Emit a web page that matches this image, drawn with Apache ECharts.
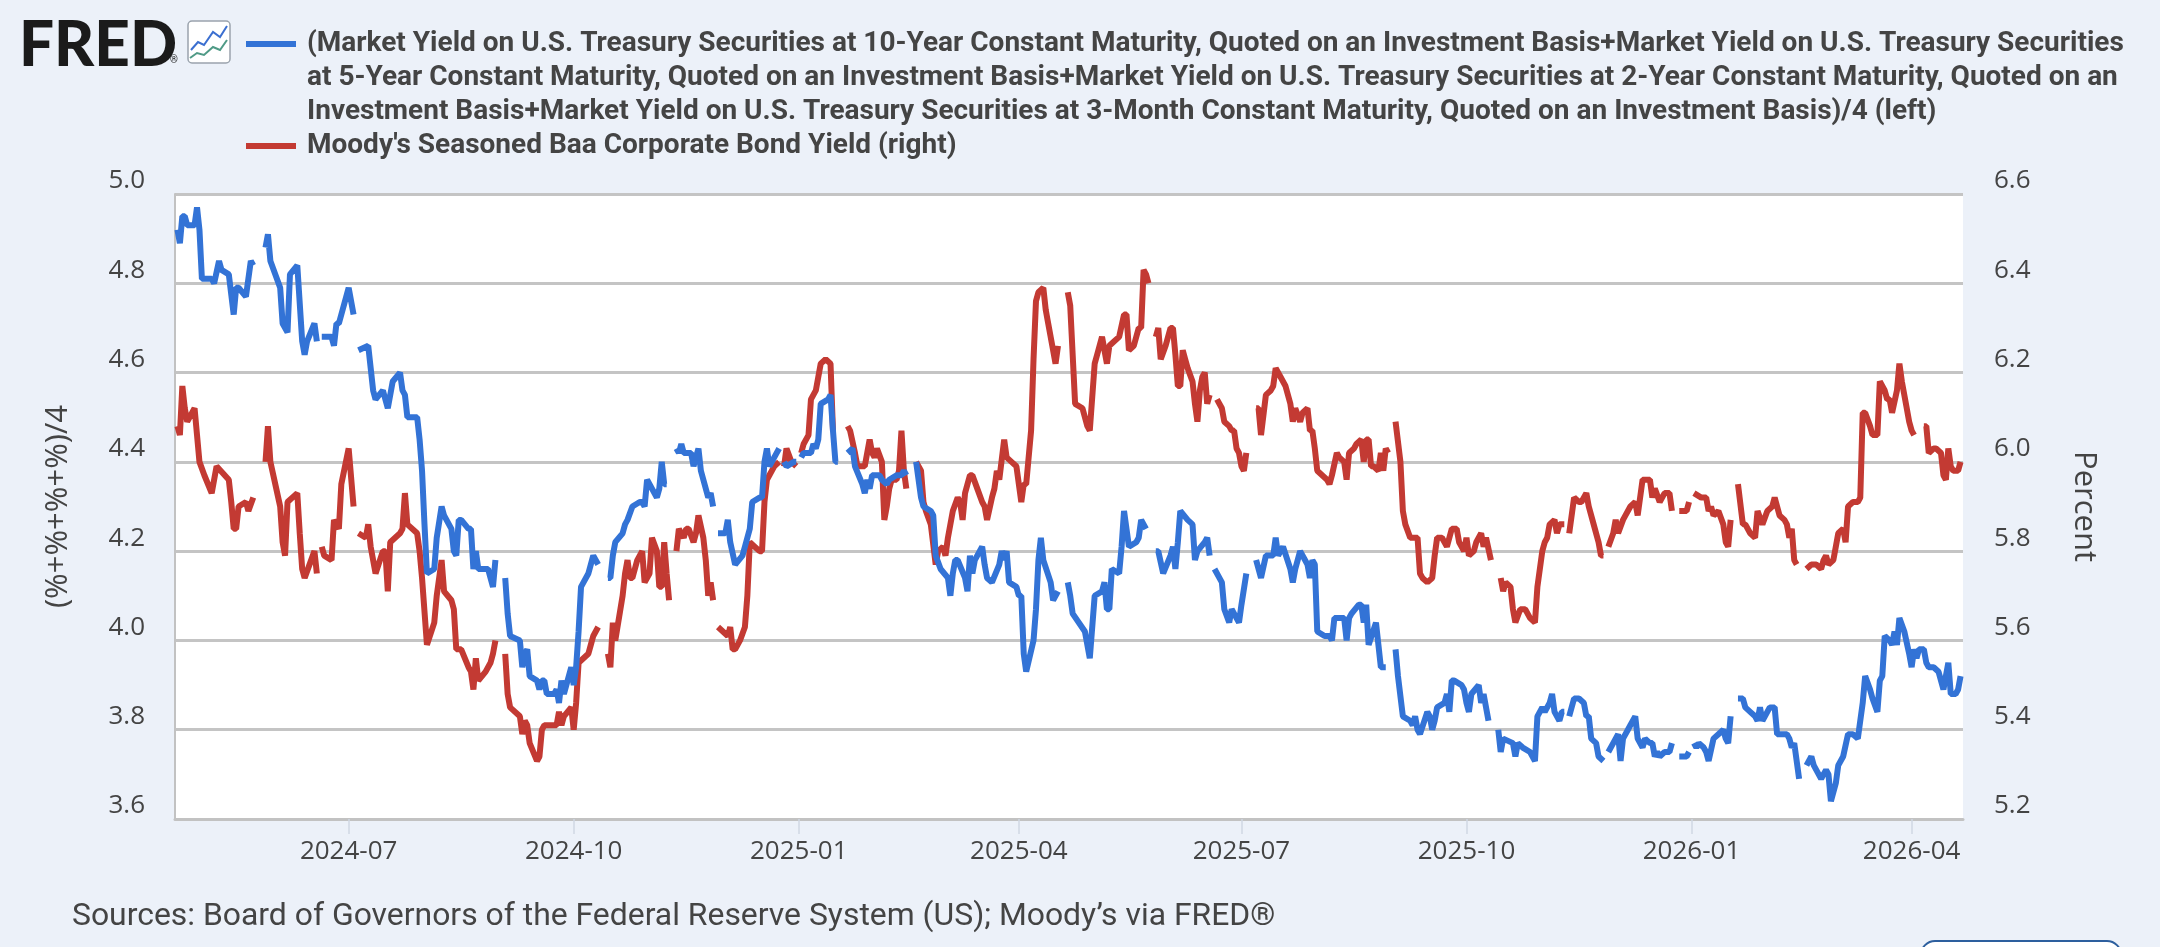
<!DOCTYPE html>
<html>
<head>
<meta charset="utf-8">
<script src="https://cdn.jsdelivr.net/npm/echarts@6/dist/echarts.min.js"></script>
<style>
html,body{margin:0;padding:0;background:#ecf1f9;}
#chart{width:2160px;height:947px;}
</style>
</head>
<body>
<div id="chart"></div>
<script>
// ---- Data ----
const leftTicks = [3.6, 3.8, 4.0, 4.2, 4.4, 4.6, 4.8, 5.0];
const rightTicks = [5.2, 5.4, 5.6, 5.8, 6.0, 6.2, 6.4, 6.6];

const treasuryName = '(Market Yield on U.S. Treasury Securities at 10-Year Constant Maturity, Quoted on an Investment Basis+Market Yield on U.S. Treasury Securities at 5-Year Constant Maturity, Quoted on an Investment Basis+Market Yield on U.S. Treasury Securities at 2-Year Constant Maturity, Quoted on an Investment Basis+Market Yield on U.S. Treasury Securities at 3-Month Constant Maturity, Quoted on an Investment Basis)/4 (left)';
const treasuryLegendLines = [
  '(Market Yield on U.S. Treasury Securities at 10-Year Constant Maturity, Quoted on an Investment Basis+Market Yield on U.S. Treasury Securities',
  'at 5-Year Constant Maturity, Quoted on an Investment Basis+Market Yield on U.S. Treasury Securities at 2-Year Constant Maturity, Quoted on an',
  'Investment Basis+Market Yield on U.S. Treasury Securities at 3-Month Constant Maturity, Quoted on an Investment Basis)/4 (left)'
];
const baaName = "Moody's Seasoned Baa Corporate Bond Yield (right)";

const treasuryAvg = [
['2024-04-22',4.92],['2024-04-23',4.89],['2024-04-24',4.95],['2024-04-25',4.95],['2024-04-26',4.93],['2024-04-29',4.93],['2024-04-30',4.97],
['2024-05-01',4.92],['2024-05-02',4.81],['2024-05-06',4.81],['2024-05-07',4.80],['2024-05-09',4.85],['2024-05-10',4.83],['2024-05-13',4.82],['2024-05-15',4.73],['2024-05-16',4.79],['2024-05-17',4.79],['2024-05-20',4.77],['2024-05-22',4.85],['2024-05-23',4.84],['2024-05-27',null],['2024-05-28',4.88],['2024-05-29',4.91],['2024-05-30',4.85],
['2024-06-03',4.79],['2024-06-04',4.71],['2024-06-06',4.69],['2024-06-07',4.82],['2024-06-10',4.84],['2024-06-12',4.67],['2024-06-13',4.64],['2024-06-14',4.67],['2024-06-17',4.71],['2024-06-18',4.67],['2024-06-19',null],['2024-06-20',4.68],['2024-06-24',4.68],['2024-06-25',4.66],['2024-06-26',4.71],['2024-06-27',4.71],
['2024-07-01',4.79],['2024-07-03',4.73],['2024-07-04',null],['2024-07-05',4.65],['2024-07-09',4.66],['2024-07-11',4.56],['2024-07-12',4.54],['2024-07-15',4.56],['2024-07-17',4.52],['2024-07-19',4.58],['2024-07-22',4.60],['2024-07-23',4.56],['2024-07-24',4.55],['2024-07-25',4.50],['2024-07-29',4.50],['2024-07-30',4.45],['2024-07-31',4.38],
['2024-08-01',4.26],['2024-08-02',4.15],['2024-08-05',4.16],['2024-08-06',4.23],['2024-08-08',4.30],['2024-08-09',4.28],['2024-08-12',4.25],['2024-08-13',4.20],['2024-08-14',4.19],['2024-08-15',4.27],['2024-08-16',4.27],['2024-08-19',4.25],['2024-08-20',4.25],['2024-08-21',4.16],['2024-08-22',4.20],['2024-08-23',4.16],['2024-08-26',4.16],['2024-08-27',4.16],['2024-08-29',4.12],['2024-08-30',4.18],
['2024-09-02',null],['2024-09-03',4.14],['2024-09-04',4.06],['2024-09-05',4.01],['2024-09-09',4.00],['2024-09-10',3.94],['2024-09-11',3.97],['2024-09-12',3.98],['2024-09-13',3.92],['2024-09-16',3.91],['2024-09-17',3.89],['2024-09-18',3.91],['2024-09-19',3.91],['2024-09-20',3.88],['2024-09-23',3.88],['2024-09-24',3.89],['2024-09-25',3.86],['2024-09-26',3.91],['2024-09-27',3.88],['2024-09-30',3.94],
['2024-10-01',3.90],['2024-10-02',3.94],['2024-10-03',4.02],['2024-10-04',4.12],['2024-10-07',4.15],['2024-10-08',4.17],['2024-10-09',4.19],['2024-10-11',4.17],['2024-10-14',null],['2024-10-15',4.14],['2024-10-16',4.14],['2024-10-17',4.19],['2024-10-18',4.22],['2024-10-21',4.24],['2024-10-22',4.26],['2024-10-23',4.27],['2024-10-25',4.30],['2024-10-28',4.31],['2024-10-29',4.31],['2024-10-30',4.30],['2024-10-31',4.36],
['2024-11-01',4.35],['2024-11-04',4.32],['2024-11-05',4.34],['2024-11-06',4.40],['2024-11-07',4.35],['2024-11-08',4.35],['2024-11-11',null],['2024-11-12',4.43],['2024-11-13',4.42],['2024-11-14',4.44],['2024-11-15',4.42],['2024-11-18',4.42],['2024-11-19',4.39],['2024-11-20',4.41],['2024-11-21',4.43],['2024-11-22',4.38],['2024-11-25',4.32],['2024-11-26',4.33],['2024-11-27',4.30],['2024-11-28',null],['2024-11-29',4.24],
['2024-12-02',4.24],['2024-12-03',4.27],['2024-12-04',4.22],['2024-12-06',4.17],['2024-12-09',4.19],['2024-12-10',4.21],['2024-12-12',4.25],['2024-12-13',4.31],['2024-12-16',4.32],['2024-12-17',4.32],['2024-12-18',4.40],['2024-12-19',4.43],['2024-12-20',4.39],['2024-12-23',4.42],['2024-12-24',4.43],['2024-12-25',null],['2024-12-26',4.40],['2024-12-27',4.39],['2024-12-30',4.40],['2024-12-31',4.40],
['2025-01-01',null],['2025-01-02',4.41],['2025-01-03',4.42],['2025-01-06',4.42],['2025-01-07',4.44],['2025-01-08',4.43],['2025-01-09',4.45],['2025-01-10',4.53],['2025-01-13',4.54],['2025-01-14',4.55],['2025-01-15',4.47],['2025-01-16',4.40],['2025-01-17',4.40],['2025-01-20',null],['2025-01-21',4.42],['2025-01-23',4.43],['2025-01-24',4.39],['2025-01-27',4.35],['2025-01-28',4.33],['2025-01-29',4.36],['2025-01-30',4.34],['2025-01-31',4.37],
['2025-02-03',4.37],['2025-02-04',4.36],['2025-02-06',4.35],['2025-02-07',4.36],['2025-02-10',4.37],['2025-02-12',4.37],['2025-02-13',4.38],['2025-02-14',4.37],['2025-02-17',null],['2025-02-18',4.40],['2025-02-20',4.32],['2025-02-21',4.30],['2025-02-24',4.29],['2025-02-25',4.28],['2025-02-26',4.19],['2025-02-28',4.16],
['2025-03-03',4.14],['2025-03-04',4.10],['2025-03-05',4.15],['2025-03-06',4.18],['2025-03-07',4.18],['2025-03-10',4.14],['2025-03-11',4.11],['2025-03-12',4.19],['2025-03-13',4.15],['2025-03-14',4.18],['2025-03-17',4.21],['2025-03-18',4.17],['2025-03-19',4.14],['2025-03-21',4.13],['2025-03-24',4.17],['2025-03-25',4.20],['2025-03-26',4.18],['2025-03-27',4.20],['2025-03-28',4.13],['2025-03-31',4.12],
['2025-04-01',4.10],['2025-04-02',4.10],['2025-04-03',3.97],['2025-04-04',3.93],['2025-04-07',4.00],['2025-04-08',4.07],['2025-04-09',4.18],['2025-04-10',4.23],['2025-04-11',4.18],['2025-04-14',4.13],['2025-04-15',4.09],['2025-04-17',4.11],['2025-04-18',null],['2025-04-21',4.13],['2025-04-22',4.10],['2025-04-23',4.06],['2025-04-28',4.02],['2025-04-30',3.96],
['2025-05-02',4.10],['2025-05-05',4.11],['2025-05-06',4.13],['2025-05-07',4.07],['2025-05-08',4.07],['2025-05-09',4.16],['2025-05-12',4.15],['2025-05-13',4.21],['2025-05-14',4.29],['2025-05-16',4.21],['2025-05-19',4.22],['2025-05-20',4.23],['2025-05-21',4.27],['2025-05-22',4.26],['2025-05-23',4.25],['2025-05-26',null],['2025-05-27',4.20],['2025-05-28',4.20],['2025-05-30',4.15],
['2025-06-02',4.19],['2025-06-03',4.21],['2025-06-04',4.16],['2025-06-05',4.22],['2025-06-06',4.29],['2025-06-09',4.27],['2025-06-11',4.26],['2025-06-12',4.18],['2025-06-13',4.20],['2025-06-16',4.22],['2025-06-17',4.23],['2025-06-18',4.19],['2025-06-19',null],['2025-06-20',4.16],['2025-06-23',4.13],['2025-06-24',4.07],['2025-06-26',4.04],['2025-06-27',4.07],['2025-06-30',4.04],
['2025-07-01',4.08],['2025-07-03',4.15],['2025-07-04',null],['2025-07-07',4.18],['2025-07-09',4.14],['2025-07-11',4.19],['2025-07-14',4.19],['2025-07-15',4.23],['2025-07-16',4.19],['2025-07-18',4.21],['2025-07-21',4.16],['2025-07-22',4.13],['2025-07-23',4.16],['2025-07-25',4.20],['2025-07-28',4.17],['2025-07-29',4.14],['2025-07-30',4.18],['2025-07-31',4.17],
['2025-08-01',4.02],['2025-08-04',4.01],['2025-08-06',4.01],['2025-08-07',4.00],['2025-08-08',4.05],['2025-08-11',4.05],['2025-08-12',4.05],['2025-08-13',4.00],['2025-08-14',4.05],['2025-08-15',4.06],['2025-08-18',4.08],['2025-08-19',4.08],['2025-08-20',4.04],['2025-08-21',4.08],['2025-08-22',3.99],['2025-08-25',4.04],['2025-08-26',3.99],['2025-08-27',3.94],['2025-08-28',3.94],['2025-08-29',3.94],
['2025-09-01',null],['2025-09-02',3.98],['2025-09-03',3.92],['2025-09-05',3.83],['2025-09-08',3.82],['2025-09-09',3.81],['2025-09-10',3.83],['2025-09-11',3.80],['2025-09-12',3.79],['2025-09-15',3.84],['2025-09-16',3.83],['2025-09-17',3.80],['2025-09-18',3.82],['2025-09-19',3.85],['2025-09-22',3.86],['2025-09-23',3.88],['2025-09-24',3.84],['2025-09-25',3.91],['2025-09-26',3.91],['2025-09-29',3.90],['2025-09-30',3.89],
['2025-10-01',3.86],['2025-10-02',3.84],['2025-10-03',3.88],['2025-10-06',3.90],['2025-10-07',3.86],['2025-10-08',3.88],['2025-10-10',3.82],['2025-10-13',null],['2025-10-14',3.80],['2025-10-15',3.75],['2025-10-16',3.78],['2025-10-20',3.77],['2025-10-21',3.74],['2025-10-22',3.77],['2025-10-24',3.76],['2025-10-27',3.75],['2025-10-29',3.73],['2025-10-30',3.83],
['2025-11-01',3.85],['2025-11-02',3.84],['2025-11-04',3.86],['2025-11-05',3.88],['2025-11-06',3.84],['2025-11-08',3.82],['2025-11-09',3.84],['2025-11-10',3.84],['2025-11-11',null],['2025-11-12',3.83],['2025-11-14',3.87],['2025-11-16',3.87],['2025-11-18',3.86],['2025-11-19',3.83],['2025-11-20',3.83],['2025-11-21',3.78],['2025-11-23',3.77],['2025-11-24',3.74],['2025-11-26',3.73],['2025-11-27',null],['2025-11-28',3.75],['2025-11-30',3.77],
['2025-12-02',3.79],['2025-12-03',3.73],['2025-12-04',3.78],['2025-12-06',3.80],['2025-12-07',3.81],['2025-12-09',3.83],['2025-12-10',3.78],['2025-12-12',3.76],['2025-12-13',3.78],['2025-12-15',3.77],['2025-12-16',3.77],['2025-12-17',3.74],['2025-12-18',3.75],['2025-12-19',3.74],['2025-12-21',3.75],['2025-12-23',3.75],['2025-12-24',3.77],['2025-12-25',null],['2025-12-27',3.74],['2025-12-30',3.74],['2025-12-31',3.75],
['2026-01-01',null],['2026-01-02',3.77],['2026-01-03',3.76],['2026-01-04',3.77],['2026-01-06',3.76],['2026-01-07',3.75],['2026-01-08',3.73],['2026-01-10',3.78],['2026-01-12',3.79],['2026-01-14',3.80],['2026-01-15',3.78],['2026-01-16',3.77],['2026-01-17',3.83],['2026-01-19',null],['2026-01-20',3.87],['2026-01-22',3.87],['2026-01-23',3.85],['2026-01-25',3.84],['2026-01-27',3.83],['2026-01-28',3.82],['2026-01-29',3.85],['2026-01-30',3.82],['2026-01-31',3.83],
['2026-02-02',3.85],['2026-02-04',3.85],['2026-02-05',3.79],['2026-02-06',3.79],['2026-02-08',3.79],['2026-02-09',3.79],['2026-02-10',3.78],['2026-02-11',3.76],['2026-02-12',3.77],['2026-02-14',3.69],['2026-02-16',null],['2026-02-17',3.72],['2026-02-19',3.74],['2026-02-20',3.72],['2026-02-21',3.71],['2026-02-23',3.69],['2026-02-25',3.71],['2026-02-26',3.70],['2026-02-27',3.64],
['2026-03-01',3.68],['2026-03-02',3.72],['2026-03-04',3.74],['2026-03-06',3.79],['2026-03-08',3.79],['2026-03-10',3.78],['2026-03-12',3.86],['2026-03-13',3.92],['2026-03-15',3.89],['2026-03-16',3.87],['2026-03-18',3.84],['2026-03-19',3.91],['2026-03-20',3.92],['2026-03-21',4.01],['2026-03-23',4.00],['2026-03-24',3.99],['2026-03-25',4.02],['2026-03-26',3.99],['2026-03-27',4.05],['2026-03-29',4.02],['2026-03-31',3.97],
['2026-04-01',3.94],['2026-04-02',3.98],['2026-04-03',3.96],['2026-04-04',3.98],['2026-04-06',3.98],['2026-04-07',3.95],['2026-04-08',3.94],['2026-04-10',3.94],['2026-04-12',3.93],['2026-04-14',3.89],['2026-04-15',3.92],['2026-04-16',3.95],['2026-04-17',3.88],['2026-04-19',3.88],['2026-04-20',3.89],['2026-04-21',3.92]
];

const baaYield = [
['2024-04-22',6.08],['2024-04-23',6.06],['2024-04-24',6.17],['2024-04-25',6.12],['2024-04-26',6.09],['2024-04-29',6.12],['2024-04-30',6.06],
['2024-05-01',6.00],['2024-05-03',5.97],['2024-05-06',5.93],['2024-05-08',5.99],['2024-05-13',5.96],['2024-05-14',5.91],['2024-05-15',5.85],['2024-05-16',5.85],['2024-05-17',5.90],['2024-05-20',5.91],['2024-05-21',5.89],['2024-05-23',5.92],['2024-05-27',null],['2024-05-28',6.00],['2024-05-29',6.08],['2024-05-30',6.00],
['2024-06-03',5.90],['2024-06-04',5.82],['2024-06-05',5.79],['2024-06-06',5.91],['2024-06-10',5.93],['2024-06-11',5.84],['2024-06-12',5.76],['2024-06-13',5.74],['2024-06-17',5.80],['2024-06-18',5.75],['2024-06-19',null],['2024-06-20',5.81],['2024-06-21',5.79],['2024-06-24',5.78],['2024-06-25',5.87],['2024-06-27',5.85],['2024-06-28',5.95],
['2024-07-01',6.03],['2024-07-03',5.90],['2024-07-04',null],['2024-07-05',5.84],['2024-07-08',5.83],['2024-07-09',5.86],['2024-07-10',5.81],['2024-07-12',5.75],['2024-07-15',5.80],['2024-07-16',5.80],['2024-07-17',5.71],['2024-07-18',5.82],['2024-07-22',5.84],['2024-07-23',5.85],['2024-07-24',5.93],['2024-07-25',5.86],['2024-07-29',5.84],['2024-07-30',5.80],['2024-07-31',5.74],
['2024-08-02',5.59],['2024-08-05',5.64],['2024-08-06',5.70],['2024-08-08',5.78],['2024-08-09',5.71],['2024-08-12',5.69],['2024-08-13',5.67],['2024-08-14',5.58],['2024-08-16',5.58],['2024-08-19',5.54],['2024-08-20',5.53],['2024-08-21',5.49],['2024-08-22',5.56],['2024-08-23',5.51],['2024-08-26',5.53],['2024-08-28',5.55],['2024-08-29',5.57],['2024-08-30',5.60],
['2024-09-02',null],['2024-09-03',5.57],['2024-09-04',5.48],['2024-09-05',5.45],['2024-09-09',5.43],['2024-09-10',5.39],['2024-09-11',5.42],['2024-09-12',5.41],['2024-09-13',5.37],['2024-09-16',5.33],['2024-09-17',5.34],['2024-09-18',5.40],['2024-09-19',5.41],['2024-09-24',5.41],['2024-09-25',5.44],['2024-09-26',5.41],['2024-09-27',5.43],['2024-09-30',5.45],
['2024-10-01',5.40],['2024-10-02',5.46],['2024-10-03',5.55],['2024-10-07',5.57],['2024-10-08',5.59],['2024-10-09',5.61],['2024-10-11',5.63],['2024-10-14',null],['2024-10-15',5.57],['2024-10-16',5.54],['2024-10-17',5.64],['2024-10-18',5.60],['2024-10-21',5.70],['2024-10-22',5.75],['2024-10-23',5.78],['2024-10-24',5.74],['2024-10-25',5.74],['2024-10-27',5.78],['2024-10-29',5.80],['2024-10-30',5.73],
['2024-11-01',5.75],['2024-11-02',5.83],['2024-11-04',5.80],['2024-11-05',5.72],['2024-11-06',5.72],['2024-11-07',5.82],['2024-11-08',5.75],['2024-11-09',5.69],['2024-11-11',null],['2024-11-12',5.80],['2024-11-13',5.85],['2024-11-15',5.83],['2024-11-16',5.85],['2024-11-17',5.85],['2024-11-19',5.82],['2024-11-20',5.84],['2024-11-21',5.88],['2024-11-23',5.83],['2024-11-24',5.78],['2024-11-25',5.70],['2024-11-26',5.73],['2024-11-27',5.69],['2024-11-28',null],['2024-11-29',5.63],
['2024-12-01',5.62],['2024-12-03',5.61],['2024-12-04',5.63],['2024-12-05',5.58],['2024-12-06',5.58],['2024-12-08',5.60],['2024-12-10',5.63],['2024-12-11',5.70],['2024-12-12',5.82],['2024-12-14',5.81],['2024-12-16',5.80],['2024-12-17',5.80],['2024-12-18',5.91],['2024-12-19',5.96],['2024-12-20',5.97],['2024-12-22',5.99],['2024-12-24',6.00],['2024-12-25',null],['2024-12-26',5.99],['2024-12-27',6.03],['2024-12-29',6.00],['2024-12-31',5.99],
['2025-01-01',null],['2025-01-02',6.02],['2025-01-03',6.04],['2025-01-05',6.06],['2025-01-06',6.14],['2025-01-08',6.16],['2025-01-09',6.19],['2025-01-10',6.22],['2025-01-12',6.23],['2025-01-14',6.22],['2025-01-15',6.07],['2025-01-16',6.07],['2025-01-20',null],['2025-01-21',6.08],['2025-01-22',6.07],['2025-01-24',6.02],['2025-01-25',5.99],['2025-01-27',5.99],['2025-01-28',5.99],['2025-01-30',6.05],['2025-01-31',6.02],
['2025-02-01',6.01],['2025-02-02',6.03],['2025-02-04',6.00],['2025-02-05',5.87],['2025-02-06',5.90],['2025-02-07',5.94],['2025-02-08',5.96],['2025-02-10',5.96],['2025-02-11',5.98],['2025-02-12',6.07],['2025-02-13',5.98],['2025-02-14',5.94],['2025-02-17',null],['2025-02-18',6.00],['2025-02-20',5.98],['2025-02-21',5.91],['2025-02-22',5.89],['2025-02-24',5.86],['2025-02-26',5.77],['2025-02-27',5.80],
['2025-03-01',5.81],['2025-03-02',5.79],['2025-03-03',5.83],['2025-03-05',5.89],['2025-03-07',5.92],['2025-03-08',5.91],['2025-03-09',5.87],['2025-03-10',5.93],['2025-03-12',5.97],['2025-03-13',5.97],['2025-03-15',5.94],['2025-03-17',5.91],['2025-03-18',5.90],['2025-03-19',5.87],['2025-03-21',5.92],['2025-03-22',5.94],['2025-03-23',5.98],['2025-03-24',5.96],['2025-03-26',6.05],['2025-03-27',6.01],['2025-03-29',6.00],['2025-03-31',5.99],
['2025-04-02',5.91],['2025-04-03',5.95],['2025-04-04',5.95],['2025-04-06',6.07],['2025-04-07',6.23],['2025-04-08',6.36],['2025-04-09',6.38],['2025-04-11',6.39],['2025-04-12',6.34],['2025-04-13',6.31],['2025-04-15',6.25],['2025-04-16',6.22],['2025-04-17',6.26],['2025-04-18',null],['2025-04-21',6.38],['2025-04-22',6.35],['2025-04-24',6.13],['2025-04-27',6.12],['2025-04-29',6.08],['2025-04-30',6.07],
['2025-05-02',6.22],['2025-05-03',6.24],['2025-05-05',6.28],['2025-05-07',6.22],['2025-05-08',6.26],['2025-05-10',6.27],['2025-05-12',6.28],['2025-05-14',6.33],['2025-05-15',6.33],['2025-05-16',6.25],['2025-05-18',6.26],['2025-05-20',6.30],['2025-05-21',6.30],['2025-05-22',6.43],['2025-05-23',6.42],['2025-05-24',6.40],['2025-05-26',null],['2025-05-27',6.28],['2025-05-28',6.30],['2025-05-29',6.23],['2025-05-31',6.26],
['2025-06-02',6.30],['2025-06-03',6.30],['2025-06-04',6.24],['2025-06-05',6.17],['2025-06-06',6.17],['2025-06-07',6.25],['2025-06-08',6.23],['2025-06-09',6.21],['2025-06-11',6.18],['2025-06-12',6.13],['2025-06-13',6.09],['2025-06-14',6.16],['2025-06-15',6.19],['2025-06-16',6.20],['2025-06-17',6.13],['2025-06-18',6.15],['2025-06-19',null],['2025-06-21',6.14],['2025-06-23',6.12],['2025-06-24',6.09],['2025-06-26',6.08],['2025-06-27',6.07],['2025-06-28',6.07],['2025-06-29',6.03],['2025-06-30',6.02],
['2025-07-01',5.99],['2025-07-02',5.98],['2025-07-03',6.02],['2025-07-04',null],['2025-07-07',6.12],['2025-07-08',6.12],['2025-07-09',6.06],['2025-07-11',6.15],['2025-07-13',6.16],['2025-07-14',6.17],['2025-07-15',6.21],['2025-07-17',6.19],['2025-07-19',6.17],['2025-07-21',6.13],['2025-07-22',6.09],['2025-07-23',6.12],['2025-07-25',6.09],['2025-07-26',6.11],['2025-07-28',6.12],['2025-07-29',6.07],['2025-07-30',6.07],['2025-07-31',6.03],
['2025-08-01',5.98],['2025-08-03',5.97],['2025-08-05',5.96],['2025-08-06',5.95],['2025-08-07',5.97],['2025-08-09',6.02],['2025-08-10',6.01],['2025-08-12',6.00],['2025-08-13',5.96],['2025-08-14',6.02],['2025-08-16',6.03],['2025-08-17',6.04],['2025-08-19',6.05],['2025-08-20',6.00],['2025-08-21',6.05],['2025-08-22',6.05],['2025-08-23',5.99],['2025-08-24',5.99],['2025-08-26',5.98],['2025-08-27',6.02],['2025-08-28',5.98],['2025-08-29',6.03],['2025-08-30',6.02],
['2025-09-01',null],['2025-09-02',6.09],['2025-09-04',6.00],['2025-09-05',5.89],['2025-09-06',5.86],['2025-09-08',5.83],['2025-09-09',5.83],['2025-09-11',5.83],['2025-09-12',5.75],['2025-09-13',5.74],['2025-09-15',5.73],['2025-09-17',5.74],['2025-09-18',5.79],['2025-09-19',5.83],['2025-09-21',5.83],['2025-09-23',5.81],['2025-09-25',5.85],['2025-09-27',5.85],['2025-09-28',5.82],['2025-09-30',5.80],
['2025-10-01',5.83],['2025-10-02',5.79],['2025-10-04',5.80],['2025-10-05',5.82],['2025-10-07',5.84],['2025-10-08',5.81],['2025-10-09',5.83],['2025-10-11',5.78],['2025-10-13',null],['2025-10-15',5.74],['2025-10-16',5.71],['2025-10-17',5.73],['2025-10-19',5.72],['2025-10-20',5.67],['2025-10-21',5.64],['2025-10-23',5.67],['2025-10-25',5.67],['2025-10-27',5.65],['2025-10-29',5.64],['2025-10-30',5.72],
['2025-11-01',5.80],['2025-11-02',5.82],['2025-11-03',5.83],['2025-11-04',5.86],['2025-11-06',5.87],['2025-11-07',5.84],['2025-11-08',5.86],['2025-11-10',5.86],['2025-11-11',null],['2025-11-12',5.84],['2025-11-14',5.92],['2025-11-16',5.91],['2025-11-17',5.91],['2025-11-19',5.93],['2025-11-20',5.90],['2025-11-22',5.86],['2025-11-24',5.82],['2025-11-25',5.79],['2025-11-26',5.79],['2025-11-27',null],['2025-11-28',5.81],['2025-11-30',5.84],
['2025-12-01',5.87],['2025-12-02',5.84],['2025-12-04',5.87],['2025-12-05',5.88],['2025-12-07',5.90],['2025-12-09',5.91],['2025-12-10',5.88],['2025-12-12',5.96],['2025-12-15',5.96],['2025-12-16',5.92],['2025-12-17',5.94],['2025-12-19',5.91],['2025-12-21',5.93],['2025-12-23',5.93],['2025-12-24',5.89],['2025-12-25',null],['2025-12-27',5.89],['2025-12-29',5.89],['2025-12-30',5.89],['2025-12-31',5.91],
['2026-01-01',null],['2026-01-02',5.93],['2026-01-05',5.92],['2026-01-07',5.92],['2026-01-08',5.89],['2026-01-09',5.90],['2026-01-10',5.88],['2026-01-12',5.89],['2026-01-14',5.86],['2026-01-15',5.82],['2026-01-16',5.81],['2026-01-17',5.87],['2026-01-19',null],['2026-01-20',5.95],['2026-01-22',5.86],['2026-01-23',5.86],['2026-01-25',5.84],['2026-01-27',5.83],['2026-01-28',5.89],['2026-01-30',5.86],
['2026-02-01',5.89],['2026-02-03',5.90],['2026-02-04',5.92],['2026-02-06',5.88],['2026-02-08',5.87],['2026-02-09',5.86],['2026-02-10',5.83],['2026-02-11',5.85],['2026-02-12',5.78],['2026-02-13',5.77],['2026-02-16',null],['2026-02-17',5.76],['2026-02-19',5.77],['2026-02-20',5.77],['2026-02-21',5.77],['2026-02-23',5.76],['2026-02-24',5.78],['2026-02-25',5.79],['2026-02-26',5.77],['2026-02-28',5.78],
['2026-03-01',5.81],['2026-03-02',5.84],['2026-03-04',5.85],['2026-03-05',5.82],['2026-03-06',5.90],['2026-03-08',5.91],['2026-03-10',5.91],['2026-03-11',5.92],['2026-03-12',6.11],['2026-03-13',6.11],['2026-03-15',6.08],['2026-03-16',6.06],['2026-03-18',6.06],['2026-03-19',6.18],['2026-03-21',6.16],['2026-03-22',6.14],['2026-03-23',6.14],['2026-03-24',6.11],['2026-03-26',6.16],['2026-03-27',6.22],['2026-03-28',6.18],['2026-03-30',6.12],['2026-03-31',6.09],
['2026-04-01',6.07],['2026-04-02',6.06],['2026-04-03',null],['2026-04-06',6.08],['2026-04-07',6.08],['2026-04-08',6.02],['2026-04-10',6.03],['2026-04-11',6.03],['2026-04-13',6.02],['2026-04-14',5.97],['2026-04-15',5.96],['2026-04-16',6.03],['2026-04-17',5.99],['2026-04-18',5.98],['2026-04-20',5.98],['2026-04-21',6.00]
];

const xStart = '2024-04-21';
const xEnd = '2026-04-22';

// ---- Styles ----
const BLUE = '#3373d6';
const RED = '#c33a33';
const TEXT = '#444444';
const AXIS_FONT = 'Open Sans';
const DAY = 24 * 3600 * 1000;

const chart = echarts.init(document.getElementById('chart'), null, { renderer: 'canvas' });

const option = {
  backgroundColor: '#ecf1f9',
  animation: false,
  legend: { show: false, data: [treasuryName, baaName] },
  grid: {
    left: 175, top: 194, width: 1788, height: 625,
    show: true, backgroundColor: '#ffffff', borderWidth: 0, containLabel: false
  },
  xAxis: {
    type: 'time',
    min: xStart,
    max: xEnd,
    minInterval: 85 * DAY,
    maxInterval: 95 * DAY,
    axisLine: { show: true, lineStyle: { color: '#c2c2c2', width: 3 } },
    axisTick: { show: true, length: 15, lineStyle: { color: '#cfd8e3', width: 1.5 } },
    splitLine: { show: false },
    axisLabel: {
      margin: 20,
      color: TEXT,
      fontFamily: AXIS_FONT,
      fontSize: 26,
      showMinLabel: false,
      showMaxLabel: false,
      formatter: function (v) { return echarts.time.format(v, '{yyyy}-{MM}', false); }
    }
  },
  yAxis: [
    {
      type: 'value',
      position: 'left',
      min: leftTicks[0],
      max: leftTicks[leftTicks.length - 1],
      interval: 0.2,
      name: '(%+%+%+%)/4',
      nameLocation: 'middle',
      nameGap: 101,
      nameRotate: 90,
      nameTextStyle: { color: TEXT, fontFamily: AXIS_FONT, fontSize: 31 },
      axisLine: { show: true, lineStyle: { color: '#c2c2c2', width: 2 } },
      axisTick: { show: false },
      splitLine: { show: true, lineStyle: { color: '#c4c4c4', width: 3 } },
      axisLabel: {
        margin: 30,
        color: TEXT,
        fontFamily: AXIS_FONT,
        fontSize: 26,
        verticalAlign: 'bottom',
        formatter: function (v) { return v.toFixed(1); }
      }
    },
    {
      type: 'value',
      position: 'right',
      min: rightTicks[0],
      max: rightTicks[rightTicks.length - 1],
      interval: 0.2,
      name: 'Percent',
      nameLocation: 'middle',
      nameGap: 105,
      nameRotate: -90,
      nameTextStyle: { color: TEXT, fontFamily: AXIS_FONT, fontSize: 31 },
      axisLine: { show: false },
      axisTick: { show: false },
      splitLine: { show: false },
      axisLabel: {
        margin: 31,
        color: TEXT,
        fontFamily: AXIS_FONT,
        fontSize: 26,
        verticalAlign: 'bottom',
        formatter: function (v) { return v.toFixed(1); }
      }
    }
  ],
  series: [
    {
      name: treasuryName,
      type: 'line',
      yAxisIndex: 0,
      data: treasuryAvg,
      showSymbol: false,
      connectNulls: false,
      lineStyle: { color: BLUE, width: 6 },
      itemStyle: { color: BLUE },
      z: 3
    },
    {
      name: baaName,
      type: 'line',
      yAxisIndex: 1,
      data: baaYield,
      showSymbol: false,
      connectNulls: false,
      lineStyle: { color: RED, width: 6 },
      itemStyle: { color: RED },
      z: 2
    }
  ],
  graphic: [
    // FRED logo
    { type: 'text', left: 19, top: 15, style: { text: 'FRED', font: '900 62px Lato', fill: '#1b1b1b' } },
    { type: 'text', left: 170, top: 55, style: { text: '\u00AE', font: '10px Roboto', fill: '#1b1b1b' } },
    { type: 'rect', shape: { x: 188, y: 21, width: 42, height: 42, r: 4 }, style: { fill: '#ffffff', stroke: '#9aa3ad', lineWidth: 1.5 } },
    { type: 'polyline', shape: { points: [[191, 50], [198, 42], [204, 45], [213, 32], [220, 37], [227, 26]] }, style: { stroke: '#3b6fd0', lineWidth: 2, fill: null } },
    { type: 'polyline', shape: { points: [[190, 58], [197, 53], [204, 55], [213, 47], [220, 50], [227, 40]] }, style: { stroke: '#4f9a86', lineWidth: 2, fill: null } },
    // Legend
    { type: 'rect', shape: { x: 246, y: 41, width: 50, height: 6 }, style: { fill: BLUE } },
    { type: 'text', x: 307, y: 27, style: { text: treasuryLegendLines.join('\n'), font: 'bold 28px Roboto', fill: TEXT, lineHeight: 34, verticalAlign: 'top', textVerticalAlign: 'top' } },
    { type: 'rect', shape: { x: 246, y: 143, width: 50, height: 6 }, style: { fill: RED } },
    { type: 'text', x: 307, y: 129, style: { text: baaName, font: 'bold 28px Roboto', fill: TEXT, lineHeight: 34, verticalAlign: 'top', textVerticalAlign: 'top' } },
    // Source
    { type: 'text', x: 72, y: 917, style: { text: 'Sources: Board of Governors of the Federal Reserve System (US); Moody\u2019s via FRED\u00AE', font: '31.9px Roboto', fill: TEXT, verticalAlign: 'middle', textVerticalAlign: 'middle' } },
    // partial button at bottom right
    { type: 'rect', shape: { x: 1921, y: 941, width: 200, height: 40, r: 14 }, style: { fill: '#ffffff', stroke: '#2d5f9e', lineWidth: 2 } }
  ]
};

chart.setOption(option);
</script>
</body>
</html>
